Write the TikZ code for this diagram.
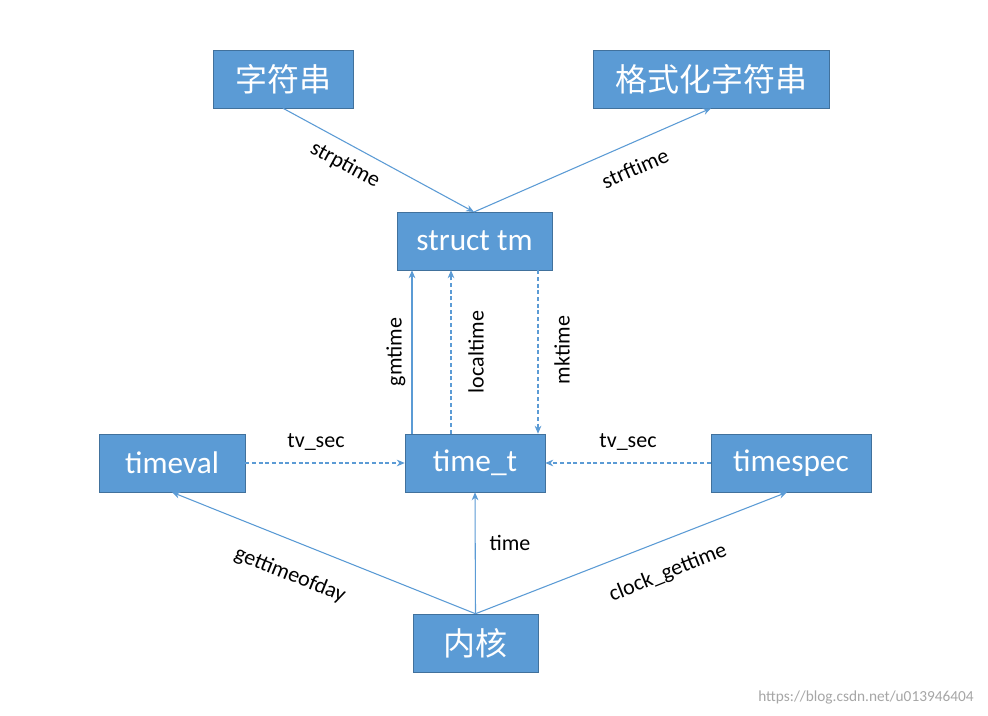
\documentclass[tikz,border=0pt]{standalone}
\usepackage{fontspec}
\setmainfont{Carlito}
\newfontfamily\cjk{Noto Sans CJK SC}
\usetikzlibrary{arrows.meta}
\definecolor{boxfill}{HTML}{5B9BD5}
\definecolor{boxline}{HTML}{41719C}
\begin{document}
\begin{tikzpicture}[x=0.75pt,y=-0.75pt,
  bx/.style={draw=boxline,fill=boxfill,text=white,inner sep=0pt,font=\fontsize{23.5}{26}\selectfont},
  cn/.style={font=\cjk\fontsize{24}{28}\selectfont},
  conn/.style={draw=boxfill,line width=0.8pt,-{Stealth[length=6pt,width=5pt]}},
  dsh/.style={conn,dash pattern=on 3pt off 2pt},
  lbl/.style={font=\fontsize{16.5}{19}\selectfont,inner sep=0pt}]
\useasboundingbox[fill=white] (0,0) rectangle (988,716);
\node[bx,cn,minimum width=105pt,minimum height=43.5pt] (s) at (283,79) {字符串};
\node[bx,cn,minimum width=177pt,minimum height=43.5pt] (f) at (711,79) {格式化字符串};
\node[bx,minimum width=116pt,minimum height=43.5pt] (tm) at (474.5,241) {struct tm};
\node[bx,minimum width=109.5pt,minimum height=43.5pt] (tv) at (172,463) {timeval};
\node[bx,minimum width=105pt,minimum height=43.5pt] (tt) at (475,463) {time\_t};
\node[bx,minimum width=120pt,minimum height=43.5pt] (ts) at (791,463) {timespec};
\node[bx,cn,minimum width=94pt,minimum height=43.5pt] (k) at (475.5,643) {内核};
\coordinate (tmtop) at (474,212);
\draw[conn] (s.south) -- (tmtop);
\draw[conn] (tmtop) -- (f.south);
\node[lbl,rotate=-28.6] at (345,165) {strptime};
\node[lbl,rotate=23.7] at (635,168) {strftime};
\draw[conn] (tt.north -| 412,0) -- (tm.south -| 412,0);
\draw[dsh] (tt.north -| 451,0) -- (tm.south -| 451,0);
\draw[dsh] (tm.south -| 538,0) -- (tt.north -| 538,0);
\node[lbl,rotate=90] at (396,352) {gmtime};
\node[lbl,rotate=90] at (476,352) {localtime};
\node[lbl,rotate=90] at (562,350) {mktime};
\draw[dsh] (tv.east) -- (tt.west);
\draw[dsh] (ts.west) -- (tt.east);
\node[lbl] at (316,442) {tv\_sec};
\node[lbl] at (628,442) {tv\_sec};
\draw[conn] (k.north) -- (tt.south);
\draw[conn] (k.north) -- (tv.south);
\draw[conn] (k.north) -- (ts.south -| 787,0);
\node[lbl] at (510,543) {time};
\node[lbl,rotate=-22] at (290,575) {gettimeofday};
\node[lbl,rotate=22] at (668,573) {clock\_gettime};
\node[font=\fontsize{11.5}{13}\selectfont,text=black!35] at (866,697) {https://blog.csdn.net/u013946404};
\end{tikzpicture}
\end{document}
